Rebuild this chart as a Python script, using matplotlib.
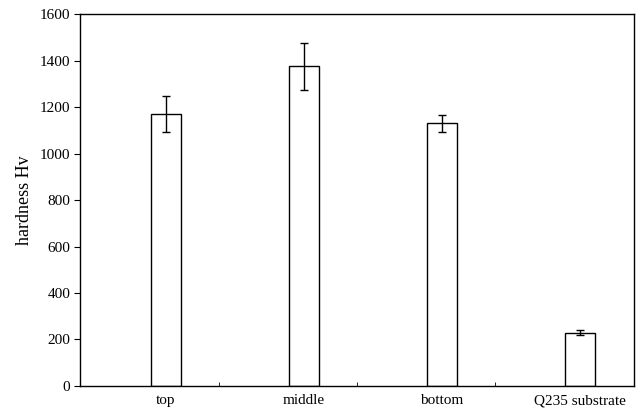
import numpy as np
import matplotlib
matplotlib.use('Agg')
import matplotlib.pyplot as plt

# hardness data
labels = ['top', 'middle', 'bottom', 'Q235 substrate']
hardness = [1170, 1375, 1130, 230]
err = [77, 100, 36, 9]

plt.rcParams['font.family'] = 'Liberation Serif'

fig = plt.figure(figsize=(6.42, 4.13), dpi=100)
ax = fig.add_axes([0.1246, 0.0654, 0.8629, 0.9006])

x = np.arange(len(labels))
ax.bar(x, hardness, width=0.217, color='white', edgecolor='black', linewidth=1.0,
       yerr=err, capsize=3, error_kw=dict(ecolor='black', elinewidth=1.0, capthick=1.0))

ax.set_xlim(-0.623, 3.391)
ax.set_ylim(0, 1600)
ax.set_yticks(np.arange(0, 1601, 200))
ax.set_xticks(x)
ax.set_xticklabels(labels, fontsize=11)
ax.tick_params(axis='x', length=0, pad=6)
ax.set_xticks(x[:-1] + 0.385, minor=True)
ax.tick_params(axis='x', which='minor', direction='in', length=3)
ax.tick_params(axis='y', direction='out', length=4, labelsize=11, pad=3)
ax.set_ylabel('hardness Hv', fontsize=13, labelpad=5)
for s in ax.spines.values():
    s.set_linewidth(1.0)

plt.savefig('out.png', dpi=100)
